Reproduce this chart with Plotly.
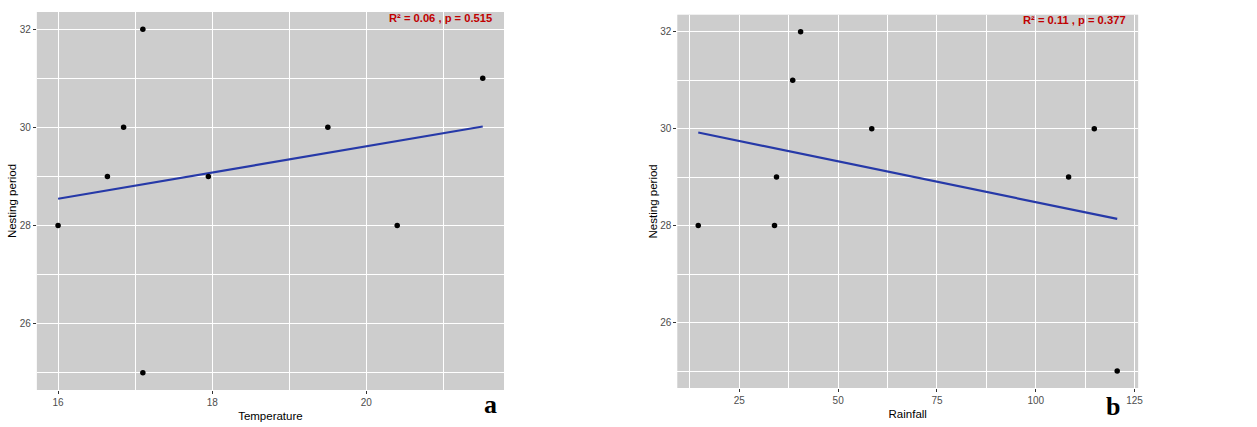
import numpy as np
import plotly.graph_objects as go

# Panel a: Temperature vs Nesting period
temperature = [16.0, 16.64, 16.85, 17.10, 17.10, 17.95, 19.50, 20.40, 21.51]
nest_a = [28, 29, 30, 32, 25, 29, 30, 28, 31]
# Panel b: Rainfall vs Nesting period
rainfall = [14.6, 33.9, 34.4, 38.5, 40.5, 58.5, 108.3, 114.8, 120.6]
nest_b = [28, 28, 29, 31, 32, 30, 29, 30, 25]

label_a = "R² = 0.06 , p = 0.515"
label_b = "R² = 0.11 , p = 0.377"
xticks_a = [16, 18, 20]
xticks_b = [25, 50, 75, 100, 125]
yticks = [26, 28, 30, 32]

W, H = 1257, 427
BG = "#cdcdcd"
LINE = "#2639a8"
SANS = "Liberation Sans, Arial, sans-serif"


def fit(x, y):
    x = np.asarray(x, float)
    y = np.asarray(y, float)
    b, a = np.polyfit(x, y, 1)
    xs = np.linspace(x.min(), x.max(), 50)
    return xs, a + b * xs


def rng(v):
    lo, hi = min(v), max(v)
    e = (hi - lo) * 0.05
    return [lo - e, hi + e]


fig = go.Figure()
for i, (x, y) in enumerate([(temperature, nest_a), (rainfall, nest_b)]):
    xa = "x" if i == 0 else "x2"
    ya = "y" if i == 0 else "y2"
    xs, ys = fit(x, y)
    fig.add_trace(go.Scatter(x=xs, y=ys, mode="lines", line=dict(color=LINE, width=2.2),
                             xaxis=xa, yaxis=ya, showlegend=False, hoverinfo="skip"))
    fig.add_trace(go.Scatter(x=x, y=y, mode="markers", marker=dict(color="black", size=5.5),
                             xaxis=xa, yaxis=ya, showlegend=False))

tickfont = dict(family=SANS, size=10, color="#4d4d4d")
titlefont = dict(family=SANS, size=11.5, color="black")


def xaxis(dom, r, ticks, minor, title, anchor):
    return dict(domain=dom, range=r, tickvals=ticks, showgrid=True, gridcolor="white", gridwidth=1.2,
                minor=dict(showgrid=True, gridcolor="white", gridwidth=0.8, tickvals=minor),
                zeroline=False, ticks="outside", ticklen=3, tickcolor="#333333", tickfont=tickfont,
                title=dict(text=title, font=titlefont, standoff=4), anchor=anchor, showline=False)


def yaxis(dom, r, anchor):
    return dict(domain=dom, range=r, tickvals=yticks, showgrid=True, gridcolor="white", gridwidth=1.2,
                minor=dict(showgrid=True, gridcolor="white", gridwidth=0.8, tickvals=[25, 27, 29, 31]),
                zeroline=False, ticks="outside", ticklen=3, tickcolor="#333333", tickfont=tickfont,
                title=dict(text="Nesting period", font=titlefont, standoff=0), anchor=anchor, showline=False)


fig.update_layout(
    width=W, height=H, margin=dict(l=0, r=0, t=0, b=0),
    paper_bgcolor="white", plot_bgcolor=BG,
    xaxis=xaxis([37 / W, 506 / W], rng(temperature), xticks_a, [17, 19, 21], "Temperature", "y"),
    yaxis=yaxis([1 - 390 / H, 1 - 12 / H], rng(nest_a), "x"),
    xaxis2=xaxis([680 / W, 1142.7 / W], rng(rainfall), xticks_b, [12.5, 37.5, 62.5, 87.5, 112.5],
                 "Rainfall", "y2"),
    yaxis2=yaxis([1 - 388 / H, 1 - 14.7 / H], rng(nest_b), "x2"),
)

annfont = dict(family=SANS, size=11.2, color="#c00000")
fig.add_annotation(x=496 / W, y=1 - 18 / H, xref="paper", yref="paper", text="<b>" + label_a + "</b>",
                   showarrow=False, xanchor="right", yanchor="middle", font=annfont)
fig.add_annotation(x=1133 / W, y=1 - 20 / H, xref="paper", yref="paper", text="<b>" + label_b + "</b>",
                   showarrow=False, xanchor="right", yanchor="middle", font=annfont)

serif = dict(family="Liberation Serif, Times New Roman, serif", size=26, color="black")
fig.add_annotation(x=492 / W, y=1 - 404 / H, xref="paper", yref="paper", text="<b>a</b>",
                   showarrow=False, xanchor="center", yanchor="middle", font=serif)
fig.add_annotation(x=1117 / W, y=1 - 406 / H, xref="paper", yref="paper", text="<b>b</b>",
                   showarrow=False, xanchor="center", yanchor="middle", font=serif)

fig.write_html("out.html")
